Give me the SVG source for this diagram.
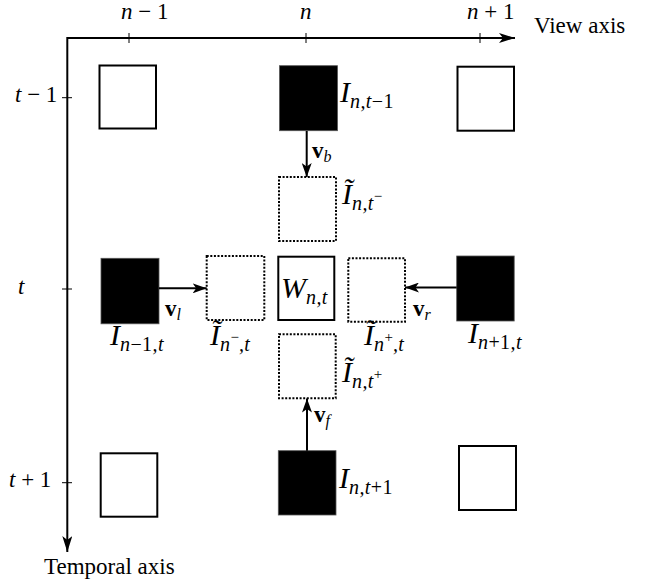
<svg xmlns="http://www.w3.org/2000/svg" width="650" height="579" viewBox="0 0 650 579" font-family="'Liberation Serif', 'DejaVu Serif', serif">
<defs>
<marker id="ah" viewBox="0 0 16 10" refX="16" refY="5" markerWidth="16" markerHeight="10" markerUnits="userSpaceOnUse" orient="auto">
<path d="M0,0 L16,5 L0,10 L4,5 Z" fill="#000"/>
</marker>
<marker id="ahs" viewBox="0 0 14 10" refX="14" refY="5" markerWidth="14" markerHeight="10" markerUnits="userSpaceOnUse" orient="auto">
<path d="M0,0 L14,5 L0,10 L3.5,5 Z" fill="#000"/>
</marker>
</defs>
<style>
.ax{stroke:#000;stroke-width:2;fill:none}
.tk{stroke:#000;stroke-width:1}
.wb{fill:#fff;stroke:#000;stroke-width:2}
.bb{fill:#000;stroke:#555;stroke-width:0.8}
.db{fill:#fff;stroke:#000;stroke-width:2;stroke-dasharray:2 1.6}
.cn{stroke:#000;stroke-width:2;fill:none}
text{font-family:'Liberation Serif','DejaVu Serif',serif;fill:#000}
.al{font-size:23px}
.m{font-size:30px}
.i{font-style:italic}
.s{font-size:20px;letter-spacing:0.4px}
.p{font-size:15px}
.v{font-size:23px}
</style>

<g id="axes">
<line class="ax" x1="67.3" y1="38" x2="515" y2="38" marker-end="url(#ah)"/>
<line class="ax" x1="67.3" y1="37" x2="67.3" y2="552" marker-end="url(#ah)"/>
<line class="tk" x1="129" y1="33" x2="129" y2="43"/>
<line class="tk" x1="306" y1="33" x2="306" y2="43"/>
<line class="tk" x1="480" y1="33" x2="480" y2="43"/>
<line class="tk" x1="62" y1="97.7" x2="72" y2="97.7"/>
<line class="tk" x1="62" y1="289" x2="72" y2="289"/>
<line class="tk" x1="62" y1="482.7" x2="72" y2="482.7"/>
<text class="al" x="121" y="19" xml:space="preserve"><tspan class="i">n</tspan> − 1</text>
<text class="al i" x="300" y="19">n</text>
<text class="al" x="467" y="19" xml:space="preserve"><tspan class="i">n</tspan> + 1</text>
<text class="al" x="534" y="33">View axis</text>
<text class="al" x="15" y="102" xml:space="preserve"><tspan class="i">t</tspan> − 1</text>
<text class="al i" x="18" y="294">t</text>
<text class="al" x="9" y="487" xml:space="preserve"><tspan class="i">t</tspan> + 1</text>
<text class="al" x="44" y="574">Temporal axis</text>
</g>

<g id="node-tc"><rect class="bb" x="279.5" y="65.7" width="58" height="65"/>
<text class="m" x="340" y="102"><tspan class="i">I</tspan><tspan class="s" dy="6"><tspan class="i">n,t</tspan>−1</tspan></text></g>
<g id="node-tl"><rect class="wb" x="99.5" y="65.5" width="56.5" height="63"/></g>
<g id="node-tr"><rect class="wb" x="457.5" y="66.7" width="56.5" height="64"/></g>

<g id="node-dt"><rect class="db" x="279" y="177" width="57" height="64"/>
<text class="m" x="342" y="204"><tspan class="i">Ĩ</tspan><tspan class="s i" dy="6">n,t</tspan><tspan class="p" dy="-9">−</tspan></text></g>

<g id="node-ml"><rect class="bb" x="101" y="258.3" width="58" height="65.5"/>
<text class="m" x="110" y="345"><tspan class="i">I</tspan><tspan class="s" dy="6"><tspan class="i">n</tspan>−1<tspan class="i">,t</tspan></tspan></text></g>

<g id="node-dl"><rect class="db" x="206.7" y="256" width="57.6" height="64"/>
<text class="m" x="210" y="345"><tspan class="i">Ĩ</tspan><tspan class="s i" dy="6">n</tspan><tspan class="p" dy="-9">−</tspan><tspan class="s i" dy="9">,t</tspan></text></g>

<g id="node-w"><rect class="wb" x="278.3" y="256.7" width="56" height="63.3"/>
<text class="m" x="281" y="298"><tspan class="i">W</tspan><tspan class="s i" dy="6">n,t</tspan></text></g>

<g id="node-dr"><rect class="db" x="348.3" y="258.3" width="56.7" height="63.4"/>
<text class="m" x="364" y="345"><tspan class="i">Ĩ</tspan><tspan class="s i" dy="6">n</tspan><tspan class="p" dy="-9">+</tspan><tspan class="s i" dy="9">,t</tspan></text></g>

<g id="node-mr"><rect class="bb" x="456.7" y="256" width="57.5" height="65"/>
<text class="m" x="468" y="343"><tspan class="i">I</tspan><tspan class="s" dy="6"><tspan class="i">n</tspan>+1<tspan class="i">,t</tspan></tspan></text></g>

<g id="node-db"><rect class="db" x="279" y="334.3" width="56.7" height="64"/>
<text class="m" x="342" y="382"><tspan class="i">Ĩ</tspan><tspan class="s i" dy="6">n,t</tspan><tspan class="p" dy="-9">+</tspan></text></g>

<g id="node-bl"><rect class="wb" x="100.7" y="453.3" width="56.6" height="63.4"/></g>
<g id="node-bc"><rect class="bb" x="278.3" y="450.7" width="57.7" height="64.3"/>
<text class="m" x="339" y="488"><tspan class="i">I</tspan><tspan class="s" dy="6"><tspan class="i">n,t</tspan>+1</tspan></text></g>
<g id="node-br"><rect class="wb" x="459" y="446" width="57" height="64"/></g>

<g id="connectors">
<line class="cn" x1="306.7" y1="131" x2="306.7" y2="177" marker-end="url(#ahs)"/>
<line class="cn" x1="159" y1="288.3" x2="206.7" y2="288.3" marker-end="url(#ahs)"/>
<line class="cn" x1="456.7" y1="287.5" x2="405" y2="287.5" marker-end="url(#ahs)"/>
<line class="cn" x1="307" y1="450.7" x2="307" y2="398.5" marker-end="url(#ahs)"/>
<text class="v" x="312" y="158"><tspan font-weight="bold">v</tspan><tspan font-size="16" dy="4" class="i">b</tspan></text>
<text class="v" x="165" y="316"><tspan font-weight="bold">v</tspan><tspan font-size="16" dy="4" class="i">l</tspan></text>
<text class="v" x="413" y="316"><tspan font-weight="bold">v</tspan><tspan font-size="16" dy="4" class="i">r</tspan></text>
<text class="v" x="314" y="422"><tspan font-weight="bold">v</tspan><tspan font-size="16" dy="4" class="i">f</tspan></text>
</g>
</svg>
